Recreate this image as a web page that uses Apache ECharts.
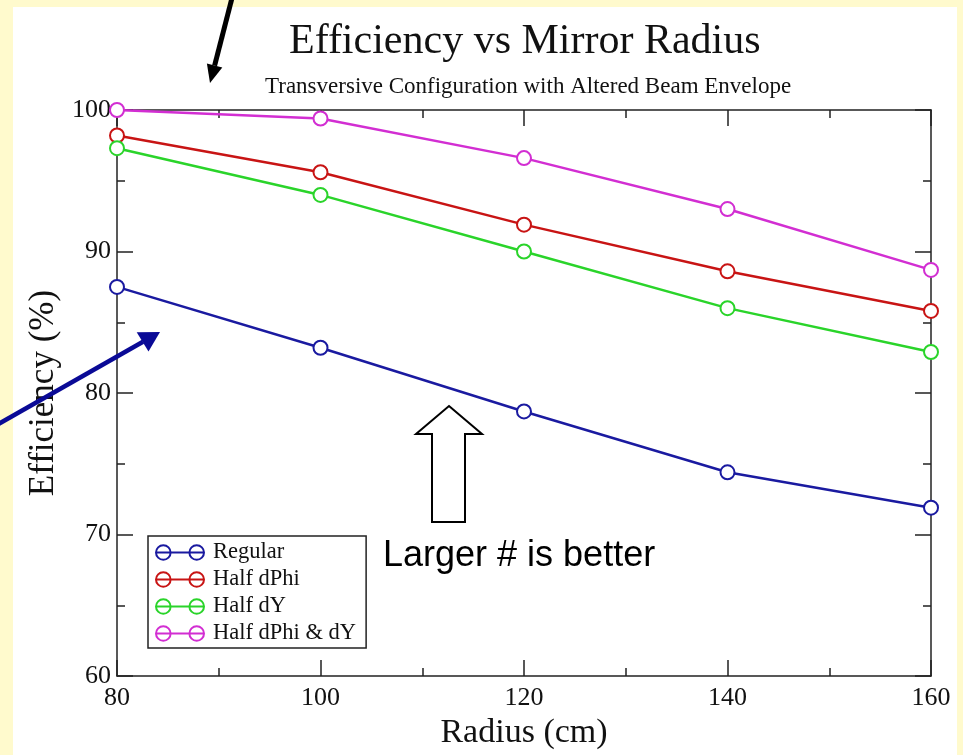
<!DOCTYPE html>
<html>
<head>
<meta charset="utf-8">
<script src="https://cdn.jsdelivr.net/npm/echarts@6/dist/echarts.min.js"></script>
<style>
  html, body { margin: 0; padding: 0; background: #fffacd; }
  #panel { position: absolute; left: 13px; top: 7px; width: 944px; height: 748px; background: #ffffff; }
  #chart { position: absolute; left: 0; top: 0; width: 963px; height: 755px; }
</style>
</head>
<body>
<div id="panel"></div>
<div id="chart"></div>
<script>
// ---- data ----
const radius = [80, 100, 120, 140, 160];
const regular = [87.5, 83.2, 78.7, 74.4, 71.9];
const halfDPhi = [98.2, 95.6, 91.9, 88.6, 85.8];
const halfDY = [97.3, 94.0, 90.0, 86.0, 82.9];
const halfDPhiDY = [100.0, 99.4, 96.6, 93.0, 88.7];
const seriesNames = ['Regular', 'Half dPhi', 'Half dY', 'Half dPhi & dY'];
const xTicks = [80, 100, 120, 140, 160];
const yTicks = [60, 70, 80, 90, 100];

const colors = ['#1a1aa0', '#c81414', '#2ad42a', '#d22ed2'];
const serif = "'Liberation Serif', 'Times New Roman', serif";
const seriesValues = [regular, halfDPhi, halfDY, halfDPhiDY];

const chart = echarts.init(document.getElementById('chart'), null, { renderer: 'canvas' });

const axisLine = { show: true, lineStyle: { color: '#222', width: 1.5 } };
const axisTick = { show: true, inside: true, length: 16, lineStyle: { color: '#222', width: 1.5 } };
const minorTick = { show: true, splitNumber: 2, length: 8, lineStyle: { color: '#222', width: 1.5 } };

const legendIcon = 'path://M1,8 A7,7 0 1,1 15,8 A7,7 0 1,1 1,8 Z M33,8 A7,7 0 1,1 47,8 A7,7 0 1,1 33,8 Z M1,8 L47,8';

const option = {
  backgroundColor: 'transparent',
  animation: false,
  title: [
    {
      text: 'Efficiency vs Mirror Radius',
      left: 284,
      top: 16,
      textStyle: { fontFamily: serif, fontSize: 42, fontWeight: 'normal', color: '#111' }
    },
    {
      text: 'Transversive Configuration with Altered Beam Envelope',
      left: 260,
      top: 70,
      textStyle: { fontFamily: serif, fontSize: 23, fontWeight: 'normal', color: '#111' }
    }
  ],
  legend: {
    orient: 'vertical',
    left: 148,
    top: 536,
    width: 219,
    padding: [5, 10, 3, 7],
    itemGap: 4,
    itemWidth: 48,
    itemHeight: 15,
    backgroundColor: '#fff',
    borderColor: '#222',
    borderWidth: 1.5,
    borderRadius: 0,
    textStyle: { fontFamily: serif, fontSize: 22.5, color: '#111', lineHeight: 22, padding: [0, 0, 0, 4] },
    data: seriesNames.map((n, i) => ({
      name: n,
      icon: legendIcon,
      itemStyle: { color: 'rgba(0,0,0,0)', borderColor: colors[i], borderWidth: 2 }
    }))
  },
  grid: { left: 117, right: 32, top: 110, bottom: 77 },
  xAxis: [
    {
      type: 'value', position: 'bottom', min: 80, max: 160, interval: 20,
      axisLine, axisTick, minorTick,
      splitLine: { show: false },
      axisLabel: { fontFamily: serif, fontSize: 26, color: '#111', margin: 9,
        formatter: v => xTicks.includes(v) ? String(v) : '' },
      name: 'Radius (cm)', nameLocation: 'middle', nameGap: 38,
      nameTextStyle: { fontFamily: serif, fontSize: 34, color: '#111' }
    },
    {
      type: 'value', position: 'top', min: 80, max: 160, interval: 20,
      axisLine, axisTick, minorTick,
      splitLine: { show: false }, axisLabel: { show: false }
    }
  ],
  yAxis: [
    {
      type: 'value', position: 'left', min: 60, max: 100, interval: 10,
      axisLine, axisTick, minorTick,
      splitLine: { show: false },
      axisLabel: { fontFamily: serif, fontSize: 26, color: '#111', margin: 6,
        formatter: v => yTicks.includes(v) ? String(v) : '' },
      name: 'Efficiency (%)', nameLocation: 'middle', nameGap: 55,
      nameTextStyle: { fontFamily: serif, fontSize: 35, color: '#111' }
    },
    {
      type: 'value', position: 'right', min: 60, max: 100, interval: 10,
      axisLine, axisTick, minorTick,
      splitLine: { show: false }, axisLabel: { show: false }
    }
  ],
  series: seriesNames.map((n, i) => ({
    name: n,
    type: 'line',
    xAxisIndex: 0,
    yAxisIndex: 0,
    clip: false,
    symbol: 'emptyCircle',
    symbolSize: 14,
    lineStyle: { color: colors[i], width: 2.5 },
    itemStyle: { color: colors[i], borderColor: colors[i], borderWidth: 1.5 },
    data: radius.map((r, k) => [r, seriesValues[i][k]]),
    z: 3 + i
  })),
  graphic: [
    // black arrow at top
    { type: 'line', shape: { x1: 232, y1: -2, x2: 214.6, y2: 65.6 }, style: { stroke: '#000', lineWidth: 5 }, z: 50 },
    { type: 'polygon', shape: { points: [[210, 83], [222.3, 67.6], [206.9, 63.6]] }, style: { fill: '#000' }, z: 50 },
    // blue arrow at left
    { type: 'line', shape: { x1: -5, y1: 426, x2: 143, y2: 341.7 }, style: { stroke: '#0a0a96', lineWidth: 4.5 }, z: 50 },
    { type: 'polygon', shape: { points: [[160, 332], [148.5, 351.5], [136.7, 332.2]] }, style: { fill: '#0a0a96' }, z: 50 },
    // hollow up arrow
    { type: 'polygon', shape: { points: [[449, 406], [482, 434], [465, 434], [465, 522], [432, 522], [432, 434], [416, 434]] },
      style: { fill: '#fff', stroke: '#000', lineWidth: 2 }, z: 50 },
    // annotation text
    { type: 'text', x: 383, y: 556, style: { text: 'Larger # is better', font: "36px 'Liberation Sans', Arial, sans-serif",
      fill: '#000', textVerticalAlign: 'middle', verticalAlign: 'middle' }, z: 50 }
  ]
};

chart.setOption(option);
</script>
</body>
</html>
